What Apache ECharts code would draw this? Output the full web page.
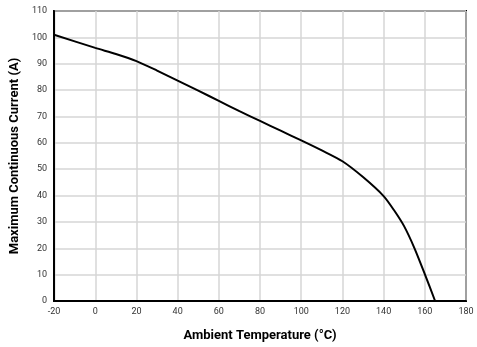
<!DOCTYPE html>
<html>
<head>
<meta charset="utf-8">
<script src="https://cdn.jsdelivr.net/npm/echarts@6/dist/echarts.min.js"></script>
<style>
  html, body { margin: 0; padding: 0; background: #fff; }
  #chart { width: 477px; height: 347px; }
</style>
</head>
<body>
<div id="chart"></div>
<script>
// Derating curve: ambient temperature (°C) vs. maximum continuous current (A)
const temperatures = [-20, 0, 10, 20, 30, 40, 50, 60, 70, 80, 90, 100, 110, 120, 130, 140, 145, 150, 155, 160, 165];
const currents     = [101, 96, 93.7, 91, 87.4, 83.6, 79.8, 75.9, 72, 68.3, 64.6, 60.9, 57.1, 53, 47, 39.8, 34.5, 28.3, 20, 10.2, 0];

const xTicks = { min: -20, max: 180, step: 20 };
const yTicks = { min: 0, max: 110, step: 10 };

const chart = echarts.init(document.getElementById('chart'), null, { renderer: 'canvas' });

const labelFont = { fontFamily: 'Roboto', fontSize: 9, color: '#333' };
const titleFont = { fontFamily: 'Roboto', fontSize: 13, fontWeight: 'bold', color: '#000' };

chart.setOption({
  animation: false,
  backgroundColor: '#fff',
  grid: {
    left: 53, right: 11, top: 11, bottom: 45,
    show: true, borderColor: '#000', borderWidth: 2, backgroundColor: 'transparent',
    containLabel: false
  },
  xAxis: {
    type: 'value',
    min: xTicks.min, max: xTicks.max, interval: xTicks.step,
    name: 'Ambient Temperature (°C)',
    nameLocation: 'middle', nameGap: 28,
    nameTextStyle: titleFont,
    axisLine: { show: true, onZero: false, lineStyle: { color: '#000', width: 2 } },
    axisTick: { show: false },
    axisLabel: Object.assign({ margin: 6 }, labelFont),
    splitLine: { show: true, lineStyle: { color: '#d6d6d6', width: 1.5 } }
  },
  yAxis: {
    type: 'value',
    min: yTicks.min, max: yTicks.max, interval: yTicks.step,
    name: 'Maximum Continuous Current (A)',
    nameLocation: 'middle', nameGap: 29,
    nameTextStyle: titleFont,
    axisLine: { show: true, onZero: false, lineStyle: { color: '#000', width: 2 } },
    axisTick: { show: false },
    axisLabel: Object.assign({ margin: 7 }, labelFont),
    splitLine: { show: true, lineStyle: { color: '#d6d6d6', width: 1.5 } }
  },
  series: [{
    type: 'line',
    data: temperatures.map((t, i) => [t, currents[i]]),
    smooth: 0.25,
    showSymbol: false,
    lineStyle: { color: '#000', width: 2 },
    clip: true
  }]
});
</script>
</body>
</html>
